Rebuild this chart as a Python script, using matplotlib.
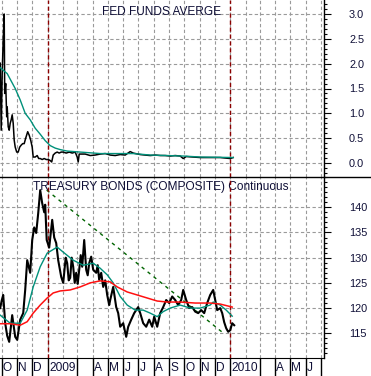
import numpy as np
import pandas as pd
import matplotlib
matplotlib.use('Agg')
import matplotlib.pyplot as plt
from matplotlib.lines import Line2D
from matplotlib.ticker import MultipleLocator, FixedLocator, FormatStrFormatter

plt.rcParams['font.family'] = ['Liberation Sans', 'DejaVu Sans']

# fed funds average (daily)
fed_dates = ['2008-09-28', '2008-09-30', '2008-10-02', '2008-10-04', '2008-10-06', '2008-10-07',
             '2008-10-09', '2008-10-11', '2008-10-12', '2008-10-14', '2008-10-16', '2008-10-18',
             '2008-10-20', '2008-10-22', '2008-10-24', '2008-10-26', '2008-10-28', '2008-10-31',
             '2008-11-03', '2008-11-06', '2008-11-09', '2008-11-12', '2008-11-15', '2008-11-18',
             '2008-11-22', '2008-11-25', '2008-11-28', '2008-12-01', '2008-12-03', '2008-12-07',
             '2008-12-11', '2008-12-14', '2008-12-17', '2008-12-21', '2008-12-25', '2008-12-29',
             '2009-01-02', '2009-01-06', '2009-01-09', '2009-01-12', '2009-01-16', '2009-01-20',
             '2009-01-24', '2009-01-28', '2009-02-01', '2009-02-07', '2009-02-13', '2009-02-19',
             '2009-02-25', '2009-03-01', '2009-03-03', '2009-03-05', '2009-03-17', '2009-03-27',
             '2009-04-06', '2009-04-16', '2009-04-26', '2009-05-06', '2009-05-16', '2009-05-26',
             '2009-06-05', '2009-06-15', '2009-06-21', '2009-07-05', '2009-07-15', '2009-07-25',
             '2009-08-04', '2009-08-14', '2009-08-24', '2009-09-03', '2009-09-13', '2009-09-23',
             '2009-09-29', '2009-10-05', '2009-10-19', '2009-11-02', '2009-11-22', '2009-12-12',
             '2010-01-01', '2010-01-07']
fed_rate = [2.01, 0.66, 1.81, 2.48, 3.0, 1.4,
            1.6, 0.93, 1.13, 0.73, 0.66, 0.8,
            0.87, 0.97, 0.8, 0.46, 0.32, 0.22,
            0.22, 0.32, 0.36, 0.39, 0.39, 0.5,
            0.63, 0.56, 0.46, 0.32, 0.12, 0.12,
            0.15, 0.09, 0.09, 0.07, 0.09, 0.07,
            0.07, 0.05, 0.02, 0.16, 0.2, 0.22,
            0.2, 0.22, 0.22, 0.2, 0.22, 0.2,
            0.22, 0.12, 0.02, 0.18, 0.18, 0.15,
            0.16, 0.18, 0.19, 0.16, 0.15, 0.17,
            0.16, 0.23, 0.2, 0.17, 0.16, 0.15,
            0.16, 0.15, 0.15, 0.14, 0.15, 0.14,
            0.09, 0.13, 0.12, 0.11, 0.11, 0.11,
            0.09, 0.11]

fed_avg_dates = ['2008-09-28', '2008-10-12', '2008-10-28', '2008-11-07', '2008-11-17', '2008-11-27',
                 '2008-12-07', '2008-12-17', '2008-12-27', '2009-01-06', '2009-01-16', '2009-01-26',
                 '2009-02-09', '2009-03-07', '2009-04-16', '2009-06-21', '2009-07-25', '2009-08-28',
                 '2009-09-29', '2009-11-02', '2010-01-07']
fed_avg = [1.92, 1.8, 1.5, 1.27, 1.0, 0.87,
           0.7, 0.58, 0.45, 0.35, 0.3, 0.27,
           0.24, 0.22, 0.19, 0.19, 0.16, 0.15,
           0.14, 0.12, 0.11]

# treasury bonds continuous
bond_dates = ['2008-09-28', '2008-10-01', '2008-10-04', '2008-10-08', '2008-10-12', '2008-10-16',
              '2008-10-22', '2008-10-28', '2008-11-01', '2008-11-07', '2008-11-13', '2008-11-17',
              '2008-11-21', '2008-11-27', '2008-12-01', '2008-12-05', '2008-12-09', '2008-12-13',
              '2008-12-17', '2008-12-21', '2008-12-25', '2008-12-27', '2008-12-30', '2009-01-04',
              '2009-01-10', '2009-01-14', '2009-01-18', '2009-01-22', '2009-01-28', '2009-02-01',
              '2009-02-03', '2009-02-06', '2009-02-09', '2009-02-12', '2009-02-15', '2009-02-18',
              '2009-02-21', '2009-02-24', '2009-02-27', '2009-03-02', '2009-03-05', '2009-03-08',
              '2009-03-11', '2009-03-15', '2009-03-19', '2009-03-22', '2009-03-25', '2009-03-29',
              '2009-04-02', '2009-04-08', '2009-04-11',
              '2009-04-14', '2009-04-18', '2009-04-22', '2009-04-26', '2009-04-30', '2009-05-04',
              '2009-05-06', '2009-05-12',
              '2009-05-18', '2009-05-22', '2009-05-26', '2009-06-01', '2009-06-07', '2009-06-11',
              '2009-06-17', '2009-06-23', '2009-06-27', '2009-07-01', '2009-07-05', '2009-07-11',
              '2009-07-17', '2009-07-23', '2009-07-29', '2009-08-02', '2009-08-08', '2009-08-14',
              '2009-08-20', '2009-08-26', '2009-09-01', '2009-09-07', '2009-09-13', '2009-09-19',
              '2009-09-25', '2009-09-29', '2009-10-05', '2009-10-11', '2009-10-17', '2009-10-23',
              '2009-10-29', '2009-11-04', '2009-11-10', '2009-11-16', '2009-11-22', '2009-11-28',
              '2009-12-02', '2009-12-06', '2009-12-12', '2009-12-16', '2009-12-20', '2009-12-24',
              '2009-12-28', '2010-01-01', '2010-01-05', '2010-01-09']
bond_close = [120.0, 121.5, 122.6, 117.0, 114.5, 113.3,
              118.6, 114.3, 113.7, 117.7, 119.0, 123.6,
              129.5, 127.0, 133.5, 136.0, 134.9, 138.8,
              143.4, 140.8, 139.0, 140.5, 133.5, 132.0,
              137.5, 134.0, 132.9, 129.5, 126.2, 125.0,
              127.0, 130.0, 128.9, 125.5, 126.0, 130.0,
              128.2, 125.0, 127.0, 124.8, 127.6, 130.5,
              128.2, 133.5, 127.6, 126.5, 128.9, 130.2,
              127.6, 127.0, 128.5,
              125.6, 127.0, 124.2, 125.5, 122.6, 120.6,
              121.6, 124.2,
              120.2, 119.0, 116.3, 117.0, 114.3, 116.3,
              117.7, 119.0, 119.6, 120.2, 119.0, 117.0,
              116.3, 117.7, 116.3, 118.3, 116.3, 119.0,
              120.2, 121.6, 121.0, 122.3, 121.6, 120.6,
              121.6, 123.6, 121.6, 120.0, 120.2, 119.3,
              119.0, 119.6, 119.0, 121.0, 122.6, 123.6,
              121.6, 119.6, 120.0, 119.0, 117.2, 116.0,
              115.3, 115.6, 117.0, 116.6]

bond_fast_dates = ['2008-09-28', '2008-10-18', '2008-11-07', '2008-11-21', '2008-12-03', '2008-12-17',
                   '2008-12-31', '2009-01-20', '2009-02-01', '2009-02-21', '2009-03-13', '2009-04-02',
                   '2009-04-16', '2009-04-30', '2009-05-12', '2009-05-26', '2009-06-09', '2009-06-25',
                   '2009-07-11', '2009-07-25', '2009-08-08', '2009-08-20', '2009-09-03', '2009-09-23',
                   '2009-10-13', '2009-11-02', '2009-11-22', '2009-11-28', '2009-12-12', '2009-12-24',
                   '2010-01-05']
bond_fast = [118.6, 117.0, 117.0, 119.6, 124.2, 128.2,
             130.9, 132.1, 131.1, 129.5, 128.5, 128.9,
             127.9, 126.6, 125.0, 122.3, 120.6, 119.6,
             119.6, 119.0, 118.3, 119.3, 120.0, 120.6,
             120.0, 120.0, 120.6, 121.2, 120.6, 119.6,
             118.4]

bond_slow_dates = ['2008-09-28', '2008-10-18', '2008-11-07', '2008-11-21', '2008-12-03', '2008-12-17',
                   '2008-12-31', '2009-01-12', '2009-01-26', '2009-02-15', '2009-03-07', '2009-03-27',
                   '2009-04-16', '2009-05-06', '2009-05-20', '2009-06-09', '2009-06-29', '2009-07-19',
                   '2009-08-08', '2009-08-28', '2009-09-23', '2009-10-23', '2009-11-22', '2009-12-12',
                   '2010-01-05']
bond_slow = [116.9, 116.9, 116.6, 117.3, 119.0, 120.6,
             122.0, 123.0, 123.4, 123.6, 124.2, 125.0,
             125.4, 125.2, 124.2, 123.2, 122.6, 122.0,
             121.4, 121.2, 121.2, 121.0, 121.0, 120.8,
             120.2]

trend_dates = ['2008-12-30', '2009-12-20']
trend_vals = [143.4, 114.9]

fed_ticks = [0.0, 0.5, 1.0, 1.5, 2.0, 2.5, 3.0]
bond_ticks = [115, 120, 125, 130, 135, 140]

year_marks = ['2009-01-01', '2010-01-01']
strip_months = ['2008-10-01', '2008-11-01', '2008-12-01', '2009-01-01', '2009-03-01', '2009-04-01',
                '2009-05-01', '2009-06-01', '2009-07-01', '2009-08-01', '2009-09-01', '2009-10-01',
                '2009-11-01', '2009-12-01', '2010-01-01', '2010-03-01', '2010-04-01', '2010-05-01',
                '2010-06-01', '2010-07-01']
strip_labels = ['O', 'N', 'D', '2009', '', 'A', 'M', 'J', 'J', 'A', 'S', 'O', 'N', 'D', '2010', '',
                'A', 'M', 'J', '']

W, H = 371, 376
fig = plt.figure(figsize=(W / 100, H / 100), dpi=100)
right = 324 / W
ax1 = fig.add_axes([0, 1 - 177 / H, right, 177 / H])
ax2 = fig.add_axes([0, 1 - 358 / H, right, 181 / H], sharex=ax1)
ax3 = fig.add_axes([0, 0, right, 18 / H], sharex=ax1)

title_col = '#101038'
grid_col = '#9a9a9a'
grid_ls = (0, (3, 2.2))

# top panel
ax1.plot(pd.to_datetime(fed_dates), fed_rate, color='black', lw=1.1, zorder=4)
ax1.plot(pd.to_datetime(fed_avg_dates), fed_avg, color='#00907a', lw=1.0, zorder=5)
ax1.set_ylim(-0.282, 3.282)
ax1.yaxis.set_major_locator(FixedLocator(fed_ticks))
ax1.yaxis.set_minor_locator(MultipleLocator(0.1))
ax1.yaxis.set_major_formatter(FormatStrFormatter('%.1f'))
ax1.text(0.5, 0.935, 'FED FUNDS AVERGE', transform=ax1.transAxes, ha='center', va='center',
         fontsize=8.6, color=title_col)

# bottom panel
ax2.plot(pd.to_datetime(bond_dates), bond_close, color='black', lw=1.5, zorder=4)
ax2.plot(pd.to_datetime(bond_fast_dates), bond_fast, color='#00907a', lw=1.0, zorder=5)
ax2.plot(pd.to_datetime(bond_slow_dates), bond_slow, color='#ff1010', lw=1.1, zorder=5)
ax2.plot(pd.to_datetime(trend_dates), trend_vals, color='#006400', lw=1.0,
         linestyle=(0, (2.5, 3)), zorder=3)
ax2.set_ylim(110.1, 146.0)
ax2.yaxis.set_major_locator(FixedLocator(bond_ticks))
ax2.yaxis.set_minor_locator(MultipleLocator(1))
ax2.yaxis.set_major_formatter(FormatStrFormatter('%d'))
ax2.text(0.497, 0.945, 'TREASURY BONDS (COMPOSITE) Continuous', transform=ax2.transAxes,
         ha='center', va='center', fontsize=8.6, color=title_col)

grid_months = pd.date_range('2008-10-01', '2010-07-01', freq='MS')
x0 = pd.Timestamp('2009-01-01') - pd.Timedelta(days=95.4)
x1 = pd.Timestamp('2009-01-01') + pd.Timedelta(days=552.6)

for ax in (ax1, ax2):
    ax.tick_params(axis='x', length=0, labelbottom=False)
    ax.yaxis.tick_right()
    ax.tick_params(axis='y', which='major', length=5, width=0.8, pad=13, labelsize=7.9,
                   labelcolor=title_col)
    ax.tick_params(axis='y', which='minor', length=2, width=0.8)
    ax.set_axisbelow(True)
    for v in ax.get_yticks():
        ax.axhline(v, color=grid_col, linestyle=grid_ls, lw=0.8, zorder=1)
    # monthly vertical grid
    for m in grid_months:
        ax.axvline(m, color=grid_col, linestyle=grid_ls, lw=0.8, zorder=1)
    ax.spines['left'].set_visible(False)
    ax.spines['top'].set_visible(False)
    ax.spines['bottom'].set_visible(False)
    ax.spines['right'].set_linewidth(1.0)
    for d in year_marks:
        ax.axvline(pd.Timestamp(d), color='#8b0000', linestyle=(0, (3, 2)), lw=1.0, zorder=3)
ax2.spines['bottom'].set_visible(True)

# month strip
ax3.set_ylim(0, 1)
ax3.axis('off')
for d, lab in zip(strip_months, strip_labels):
    t = pd.Timestamp(d)
    ax3.axvline(t, color='black', lw=1.0)
    if lab:
        ax3.text(t + pd.Timedelta(days=2.5), 0.42, lab, ha='left', va='center', fontsize=8.6,
                 color=title_col)

ax1.set_xlim(x0, x1)

# separator between panels, runs to the right edge
fig.add_artist(Line2D([0, 1], [1 - 177 / H, 1 - 177 / H], transform=fig.transFigure,
                      color='black', lw=1.0))

fig.savefig('out.png', dpi=100)
